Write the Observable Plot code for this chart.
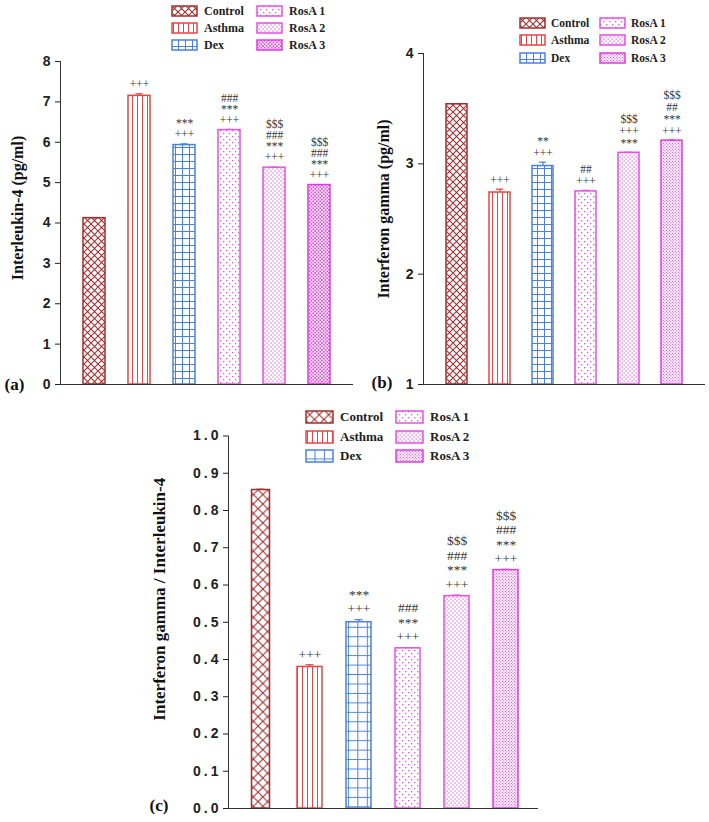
<!DOCTYPE html>
<html>
<head>
<meta charset="utf-8">
<script src="https://cdn.jsdelivr.net/npm/d3@7"></script>
<script src="https://cdn.jsdelivr.net/npm/@observablehq/plot@0.6"></script>
<style>
  body { margin: 0; background: #fff; }
  #fig { position: relative; width: 709px; height: 822px; overflow: hidden; background: #fff; }
  .panel { position: absolute; }
  .item { position: absolute; display: flex; align-items: center; white-space: nowrap;
          font-family: "Liberation Serif", "Times New Roman", serif; font-weight: bold; color: #222; }
  .item svg { display: block; }
  /* the ratio panel uses wider-set tick numerals */
  .wide-ticks g[aria-label="y-axis tick label"] text { letter-spacing: 3px; }
</style>
</head>
<body>
<div id="fig"></div>
<script>
// Treatment groups, in bar order
const groups = ["Control", "Asthma", "Dex", "RosA 1", "RosA 2", "RosA 3"];

// (a) Interleukin-4 (pg/ml): mean, SEM, significance markers (top line first)
const il4Mean = [4.12, 7.15, 5.93, 6.30, 5.37, 4.94];
const il4Sem  = [0.01, 0.05, 0.03, 0.02, 0.01, 0.01];
const il4Sig  = [[], ["+++"], ["***", "+++"], ["###", "***", "+++"],
                 ["$$$", "###", "***", "+++"], ["$$$", "###", "***", "+++"]];
const il4Ticks = [0, 1, 2, 3, 4, 5, 6, 7, 8];

// (b) Interferon gamma (pg/ml)
const ifnMean = [3.54, 2.74, 2.98, 2.75, 3.10, 3.21];
const ifnSem  = [0.005, 0.03, 0.035, 0.01, 0.005, 0.005];
const ifnSig  = [[], ["+++"], ["**", "+++"], ["##", "+++"],
                 ["$$$", "+++", "***"], ["$$$", "##", "***", "+++"]];
const ifnTicks = [1, 2, 3, 4];

// (c) Interferon gamma / Interleukin-4 ratio
const ratioMean = [0.855, 0.38, 0.50, 0.43, 0.57, 0.64];
const ratioSem  = [0.002, 0.006, 0.007, 0.002, 0.003, 0.002];
const ratioSig  = [[], ["+++"], ["***", "+++"], ["###", "***", "+++"],
                   ["$$$", "###", "***", "+++"], ["$$$", "###", "***", "+++"]];
const ratioTicks = [0, 0.1, 0.2, 0.3, 0.4, 0.5, 0.6, 0.7, 0.8, 0.9, 1.0];

const groupColors = ["#a03030", "#e84444", "#4a80e4", "#e452e4", "#e452e4", "#dd3ddd"];
const serif = "'Liberation Serif', 'Times New Roman', serif";
const sans = "'Liberation Sans', Arial, sans-serif";

const fig = d3.select("#fig");

// Shared hatch / dot pattern definitions
const defs = fig.append("svg").attr("width", 0).attr("height", 0)
  .style("position", "absolute").append("defs");

function pattern(id, w, h, draw) {
  const p = defs.append("pattern").attr("id", id)
    .attr("patternUnits", "userSpaceOnUse").attr("width", w).attr("height", h);
  p.append("rect").attr("width", w).attr("height", h).attr("fill", "#fff");
  draw(p);
}
function cross(p, s, c, sw) {
  p.append("path").attr("d", `M-1,-1L${s + 1},${s + 1}M${s + 1},-1L-1,${s + 1}`)
    .attr("stroke", c).attr("stroke-width", sw).attr("fill", "none");
}
function dots(p, pts, r, c) {
  pts.forEach(([x, y]) => p.append("rect").attr("x", x).attr("y", y)
    .attr("width", r).attr("height", r).attr("fill", c));
}

function makePatterns(prefix, k, hatchedLast) {
  const c = groupColors;
  pattern(`${prefix}-0`, 7 * k, 7 * k, p => cross(p, 7 * k, c[0], 1.1));
  pattern(`${prefix}-1`, 5, 5, p => p.append("line").attr("x1", 2.5).attr("x2", 2.5)
    .attr("y1", 0).attr("y2", 5).attr("stroke", c[1]).attr("stroke-width", 1));
  pattern(`${prefix}-2`, 7 * k, 7 * k, p => p.append("path")
    .attr("d", `M0.5,0V${7 * k}M0,0.5H${7 * k}`).attr("stroke", c[2]).attr("stroke-width", 1));
  pattern(`${prefix}-3`, 6, 6, p => dots(p, [[1, 1], [4, 4]], 1.3, c[3]));
  pattern(`${prefix}-4`, 4, 4, p => dots(p, [[0.5, 0.5], [2.5, 2.5]], 1.2, c[4]));
  if (hatchedLast) pattern(`${prefix}-5`, 3.5, 3.5, p => cross(p, 3.5, c[5], 0.8));
  else pattern(`${prefix}-5`, 3, 3, p => dots(p, [[0.3, 0.3], [1.8, 1.8]], 1.1, c[5]));
}
makePatterns("pa", 1, true);
makePatterns("pb", 1, false);
makePatterns("pc", 1.35, false);

function panel(o) {
  const d0 = o.domain[0];
  const data = groups.map((g, i) => ({
    group: g, value: o.mean[i], top: o.mean[i] + o.sem[i], sig: o.sig[i],
    fill: `url(#${o.prefix}-${i})`, stroke: groupColors[i]
  }));
  const sigMarks = [0, 1, 2, 3].map(k =>
    Plot.text(data.filter(d => d.sig.length > k), {
      x: "group", y: "top", text: d => d.sig[d.sig.length - 1 - k],
      dy: -(o.base + k * o.gap), fontFamily: serif, fontSize: o.sigSize, fill: "#333"
    }));
  const wide = data.filter(d => !(o.narrow && d.group === o.narrow.group));
  const thin = data.filter(d => o.narrow && d.group === o.narrow.group);
  const barOpts = inset => ({x: "group", y1: () => d0, y2: "value", fill: "fill",
    stroke: "stroke", strokeWidth: 1.5, insetLeft: inset, insetRight: inset});
  const chart = Plot.plot({
    width: o.width, height: o.height, className: o.cls,
    marginLeft: o.m[0], marginTop: o.m[1], marginRight: o.m[2], marginBottom: o.m[3],
    style: {background: "transparent", overflow: "visible"},
    x: {domain: groups, paddingInner: o.padIn, paddingOuter: o.padOut, axis: null},
    y: {domain: o.domain},
    color: {type: "identity"},
    marks: [
      Plot.barY(wide, barOpts(0)),
      Plot.barY(thin, barOpts(o.narrow ? o.narrow.inset : 0)),
      Plot.ruleX(data, {x: "group", y1: "value", y2: "top", stroke: "stroke", strokeWidth: 1.2}),
      Plot.tickY(data, {x: "group", y: "top", stroke: "stroke", strokeWidth: 1.2, inset: o.capInset}),
      Plot.axisY({ticks: o.ticks, tickFormat: o.fmt, tickSize: 5, tickPadding: o.tickPad, label: null,
        fontFamily: sans, fontWeight: "bold", fontSize: 14, color: "#222"}),
      Plot.frame({anchor: "left", stroke: "#333"}),
      Plot.ruleY([d0], {stroke: "#333"}),
      ...sigMarks,
      Plot.text([o.label], {frameAnchor: "left", rotate: -90, dx: o.labelDx, dy: o.labelDy,
        textAnchor: "middle", lineAnchor: "middle",
        fontFamily: serif, fontWeight: "bold", fontSize: o.labelSize, fill: "#111"}),
      Plot.text([o.tag], {frameAnchor: "bottom-left", dx: o.tagDx, dy: o.tagDy,
        textAnchor: "middle", lineAnchor: "middle",
        fontFamily: serif, fontWeight: "bold", fontSize: 17, fill: "#111"})
    ]
  });
  fig.append("div").attr("class", "panel")
    .style("left", o.left + "px").style("top", o.top + "px")
    .node().appendChild(chart);

  // legend: two columns of three rows
  const L = o.legend;
  groups.forEach((g, i) => {
    const col = i < 3 ? 0 : 1, row = i % 3;
    const item = fig.append("div").attr("class", "item")
      .style("left", L.x[col] + "px")
      .style("top", (L.y + row * L.gap - 10) + "px").style("height", "20px")
      .style("font-size", L.size + "px");
    const sw = item.append("svg").attr("width", L.w + 2).attr("height", L.h + 2);
    sw.append("rect").attr("x", 1).attr("y", 1).attr("width", L.w).attr("height", L.h)
      .attr("fill", `url(#${o.prefix}-${i})`).attr("stroke", groupColors[i]).attr("stroke-width", 1.5);
    item.append("span").style("margin-left", L.pad + "px").text(g);
  });
}

panel({
  prefix: "pa", cls: "panel-a", left: 0, top: 0, width: 355, height: 400, m: [60, 61, 2, 16],
  mean: il4Mean, sem: il4Sem, sig: il4Sig, domain: [0, 8], ticks: il4Ticks, fmt: d3.format("d"),
  padIn: 0.52, padOut: 0.465, capInset: 7.5, tickPad: 5,
  base: 9.5, gap: 11, sigSize: 11.5,
  label: "Interleukin-4 (pg/ml)", labelSize: 16, labelDx: -43, labelDy: -15,
  tag: "(a)", tagDx: -46, tagDy: 0,
  legend: {x: [171, 256], y: 11, gap: 17, w: 25, h: 10, pad: 6, size: 12}
});

panel({
  prefix: "pb", cls: "panel-b", left: 355, top: 0, width: 354, height: 400, m: [68, 53, 4, 16],
  mean: ifnMean, sem: ifnSem, sig: ifnSig, domain: [1, 4], ticks: ifnTicks, fmt: d3.format("d"),
  padIn: 0.52, padOut: 0.494, capInset: 7, tickPad: 5,
  base: 9, gap: 12, sigSize: 11.5,
  label: "Interferon gamma (pg/ml)", labelSize: 16, labelDx: -40, labelDy: -10,
  tag: "(b)", tagDx: -41.5, tagDy: -2,
  legend: {x: [519, 599], y: 23, gap: 17.4, w: 25, h: 10, pad: 5, size: 11.5}
});

panel({
  prefix: "pc", cls: "wide-ticks", left: 140, top: 400, width: 409, height: 422, m: [88, 35.5, 11, 14],
  mean: ratioMean, sem: ratioSem, sig: ratioSig, domain: [0, 1], ticks: ratioTicks, fmt: d3.format(".1f"),
  padIn: 0.5, padOut: 0.41, capInset: 8.5, narrow: {group: "Control", inset: 3.5}, tickPad: 2,
  base: 10.5, gap: 14.5, sigSize: 13.5,
  label: "Interferon gamma / Interleukin-4", labelSize: 17, labelDx: -69, labelDy: -23,
  tag: "(c)", tagDx: -69.5, tagDy: -3,
  legend: {x: [305, 395], y: 417, gap: 19.5, w: 27, h: 12, pad: 6, size: 13}
});
</script>
</body>
</html>
